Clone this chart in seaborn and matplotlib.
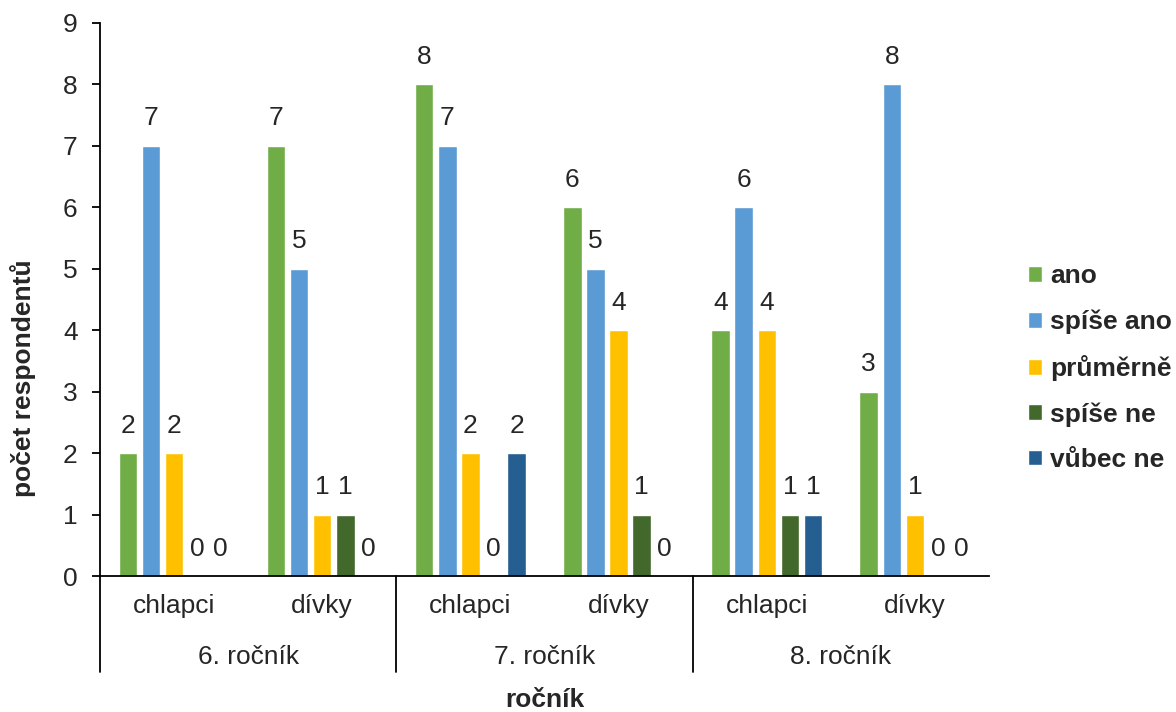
import pandas as pd
import matplotlib
matplotlib.use('Agg')
import matplotlib.pyplot as plt
import seaborn as sns

rocniky = ['6. ročník', '7. ročník', '8. ročník']
skupiny = ['chlapci', 'dívky']
odpovedi = ['ano', 'spíše ano', 'průměrně', 'spíše ne', 'vůbec ne']
barvy = ['#70AD47', '#5B9BD5', '#FFC000', '#43682B', '#255E91']

# poradi: 6. chlapci, 6. divky, 7. chlapci, 7. divky, 8. chlapci, 8. divky
ano = [2, 7, 8, 6, 4, 3]
spise_ano = [7, 5, 7, 5, 6, 8]
prumerne = [2, 1, 2, 4, 4, 1]
spise_ne = [0, 1, 0, 1, 1, 0]
vubec_ne = [0, 0, 2, 0, 1, 0]

hodnoty = [ano, spise_ano, prumerne, spise_ne, vubec_ne]
kategorie = [r + '|' + s for r in rocniky for s in skupiny]

rows = []
for odp, vals in zip(odpovedi, hodnoty):
    for kat, v in zip(kategorie, vals):
        rows.append({'kat': kat, 'odpoved': odp, 'pocet': v})
df = pd.DataFrame(rows)

FS = 19
sns.set_style('white')
plt.rcParams['font.family'] = ['Liberation Sans', 'DejaVu Sans']
plt.rcParams['font.size'] = FS

fig = plt.figure(figsize=(11.76, 7.12), dpi=100)
ax = fig.add_axes([0.085, 0.191, 0.756, 0.777])

sns.barplot(data=df, x='kat', y='pocet', hue='odpoved', order=kategorie,
            hue_order=odpovedi, palette=barvy, saturation=1,
            width=0.78, gap=0.2, ax=ax, errorbar=None)

for cont in ax.containers:
    ax.bar_label(cont, fmt='%d', padding=11, fontsize=FS)

ax.set_ylim(0, 9)
ax.set_xlim(-0.5, len(kategorie) - 0.5)
ax.set_yticks(range(10))
ax.tick_params(axis='y', left=True, length=6, width=1.3, color='black',
               pad=10, labelsize=FS)
ax.set_xticks(range(len(kategorie)))
ax.set_xticklabels([k.split('|')[1] for k in kategorie])
ax.tick_params(axis='x', bottom=False, length=0, pad=13, labelsize=FS)

sns.despine(ax=ax)
for s in ['left', 'bottom']:
    ax.spines[s].set_color('black')
    ax.spines[s].set_linewidth(1.3)

# vicerozmerna osa x
trans = ax.get_xaxis_transform()
for xpos in [-0.5, 1.5, 3.5]:
    ax.plot([xpos, xpos], [0, -0.174], transform=trans, color='black',
            lw=1.3, clip_on=False)
for i, r in enumerate(rocniky):
    ax.text(2 * i + 0.5, -0.146, r, transform=trans, ha='center',
            va='center', fontsize=FS)

ax.set_xlabel('')
ax.set_ylabel('')
ax.text(0.5, -0.224, 'ročník', transform=ax.transAxes, ha='center',
        va='center', fontsize=FS, fontweight='bold')
ax.text(-0.087, 0.358, 'počet respondentů', transform=ax.transAxes,
        ha='center', va='center', rotation=90, fontsize=FS, fontweight='bold')

ax.legend(loc='center left', bbox_to_anchor=(0.874, 0.483),
          bbox_transform=fig.transFigure, frameon=False,
          prop={'weight': 'bold', 'size': FS}, handlelength=0.55,
          handleheight=0.55, handletextpad=0.3, labelspacing=0.8,
          borderaxespad=0, borderpad=0)

fig.savefig('out.png', dpi=100)
